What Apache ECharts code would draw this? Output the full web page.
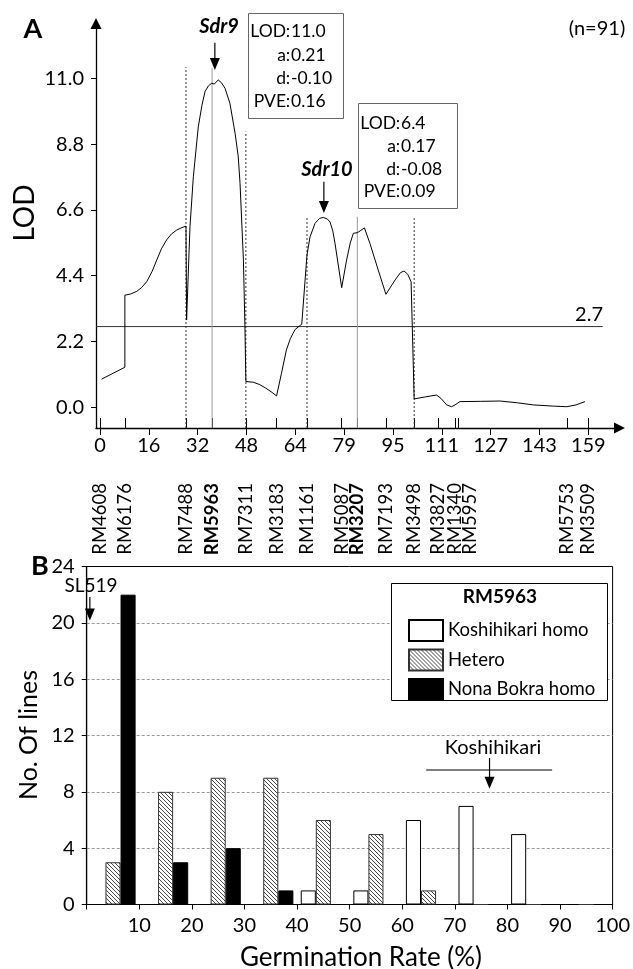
<!DOCTYPE html>
<html>
<head>
<meta charset="utf-8">
<script src="https://cdn.jsdelivr.net/npm/echarts@6/dist/echarts.min.js"></script>
<style>
html,body{margin:0;padding:0;background:#fff;}
#chart{width:633px;height:969px;}
</style>
</head>
<body>
<div id="chart"></div>
<script>
// ---------------- Panel A data ----------------
const markerNames = ['RM4608','RM6176','RM7488','RM5963','RM7311','RM3183','RM1161','RM5087','RM3207','RM7193','RM3498','RM3827','RM1340','RM5957','RM5753','RM3509'];
const markerPos   = [0, 8.1, 28.0, 36.5, 47.5, 57.5, 67.4, 78.7, 83.8, 93.1, 102.3, 110.2, 115.6, 116.5, 152.2, 159.0];
const boldMarkers = ['RM5963','RM3207'];
const scaleTickPos = [0, 15.9, 31.8, 47.7, 63.6, 79.5, 95.4, 111.3, 127.2, 143.1, 159.0];
const scaleLabels  = ['0','16','32','48','64','79','95','111','127','143','159'];
const lodTicks = [0, 2.2, 4.4, 6.6, 8.8, 11.0];
const threshold = 2.7;
const lodCurve = [
  [0.5,0.94],[8.1,1.34],[8.1,3.75],[10.0,3.79],[12.0,3.88],[13.5,4.0],[15.2,4.2],[17.0,4.55],[18.5,4.93],[20.0,5.3],[21.7,5.6],[23.3,5.8],[25.0,5.93],[26.7,6.01],[28.0,6.06],
  [28.2,2.92],[29.3,6.04],[30.4,7.71],[32.0,9.38],[33.2,10.1],[34.2,10.56],[35.3,10.75],[36.4,10.84],[37.2,10.81],[38.5,10.95],[39.6,10.85],[40.7,10.67],[42.3,10.17],[44.0,9.16],[45.0,8.4],[45.6,7.49],[46.7,4.93],[47.2,2.7],[47.5,0.86],
  [49.9,0.84],[52.0,0.76],[54.0,0.64],[56.0,0.5],[57.5,0.38],[59.1,1.14],[60.7,1.92],[62.0,2.3],[63.5,2.6],[65.7,2.78],[66.3,2.82],[67.4,5.1],[68.4,5.7],[70.0,6.15],[71.5,6.32],[72.7,6.35],[74.0,6.3],[74.9,6.2],[75.8,5.9],[76.5,5.5],[78.7,4.0],[80.3,4.93],[81.5,5.5],[82.5,5.82],[83.8,5.84],[84.7,5.9],[86.1,6.0],[87.9,5.48],[90.6,4.59],[93.1,3.78],[96.1,4.26],[97.8,4.5],[99.0,4.56],[100.2,4.45],[101.3,4.2],
  [102.3,0.28],[106.0,0.35],[109.6,0.41],[111.0,0.3],[112.9,0.08],[114.5,0.02],[115.6,0.08],[116.2,0.13],[117.2,0.19],[124.0,0.2],[130.3,0.21],[136.0,0.15],[141.1,0.08],[147.6,0.04],[152.0,0.02],[155.0,0.08],[157.9,0.19]
];
const qtlNames = ['Sdr9','Sdr10'];
const qtlPeakPos = [37.4, 72.9];
const qtlStatLabels = ['LOD','a','d','PVE'];
const qtlStats = [['11.0','0.21','-0.10','0.16'], ['6.4','0.17','-0.08','0.09']];

// ---------------- Panel B data ----------------
const rateBins = ['0-10','10-20','20-30','30-40','40-50','50-60','60-70','70-80','80-90','90-100'];
const koshihikariHomo = [0,0,0,0,1,1,6,7,5,0];
const hetero          = [3,8,9,9,6,5,1,0,0,0];
const nonaBokraHomo   = [22,3,4,1,0,0,0,0,0,0];
const sl519Rate = 0.6;
const koshihikariRate = 76.6;
const koshihikariRange = [64.55, 88.5];

// ---------------- layout ----------------
const FONT = 'Lato';
const TICK_FS = 20;
const X_MIN_A = -1.30, X_MAX_A = 169.16, Y_MIN_A = -0.692, Y_MAX_A = 12.836;
const labelNudge = {RM5957: 4};
const markerLabelPos = markerPos.map((p,i)=> p + (labelNudge[markerNames[i]]||0));
const posOf = n => markerPos[markerNames.indexOf(n)];

function hatchCanvas(){
  const c = document.createElement('canvas');
  c.width = 4; c.height = 4;
  const g = c.getContext('2d');
  g.fillStyle = '#fff'; g.fillRect(0,0,4,4);
  g.strokeStyle = '#444'; g.lineWidth = 1;
  g.beginPath();
  g.moveTo(0,0); g.lineTo(4,4);
  g.moveTo(-1,3); g.lineTo(1,5);
  g.moveTo(3,-1); g.lineTo(5,1);
  g.stroke();
  return c;
}

const chart = echarts.init(document.getElementById('chart'), null, {renderer:'canvas'});

function vline(name, dotted, top){
  const x = posOf(name);
  return {
    type:'line', xAxisIndex:0, yAxisIndex:0, symbol:'none', silent:true, z:2,
    data:[[x, Y_MIN_A],[x, top]],
    lineStyle:{color: dotted ? '#333' : '#999', width:1, type: dotted ? [2,2] : 'solid'}
  };
}
function arrow(xi, yi, x, yTop, yHead){
  return {
    type:'line', xAxisIndex:xi, yAxisIndex:yi, silent:true, z:4,
    symbol:'triangle', symbolSize:[10,12], symbolRotate:180, showSymbol:true,
    itemStyle:{color:'#000'},
    lineStyle:{color:'#000', width:1.2},
    data:[{value:[x,yTop], symbol:'none'}, {value:[x,yHead]}]
  };
}

const series = [
  {type:'line', name:'LOD', xAxisIndex:0, yAxisIndex:0, data:lodCurve, showSymbol:false, symbol:'none', silent:true, z:3,
   lineStyle:{color:'#000', width:1}},
  {type:'line', xAxisIndex:0, yAxisIndex:0, data:[[X_MIN_A, threshold],[163.7, threshold]], symbol:'none', silent:true, z:2,
   lineStyle:{color:'#333', width:1}},
  vline('RM7488', true, 11.38),
  vline('RM5963', false, 11.35),
  vline('RM7311', true, 9.22),
  vline('RM1161', true, 6.37),
  vline('RM3207', false, 6.37),
  vline('RM3498', true, 6.32),
  arrow(0,0, qtlPeakPos[0], 12.19, 11.48),
  arrow(0,0, qtlPeakPos[1], 7.54, 6.70),
  {type:'bar', name:'Koshihikari homo', xAxisIndex:2, yAxisIndex:1, data:koshihikariHomo, barGap:'0%', barCategoryGap:'14%',
   itemStyle:{color:'#fff', borderColor:'#000', borderWidth:1}, silent:true},
  {type:'bar', name:'Hetero', xAxisIndex:2, yAxisIndex:1, data:hetero, barGap:'0%', barCategoryGap:'14%',
   itemStyle:{color:{image:hatchCanvas(), repeat:'repeat'}, borderColor:'#333', borderWidth:1}, silent:true},
  {type:'bar', name:'Nona Bokra homo', xAxisIndex:2, yAxisIndex:1, data:nonaBokraHomo, barGap:'0%', barCategoryGap:'14%',
   itemStyle:{color:'#000', borderColor:'#000', borderWidth:1}, silent:true},
  arrow(3,1, sl519Rate, 21.84, 20.6),
  arrow(3,1, koshihikariRate, 10.4, 8.65),
  {type:'line', xAxisIndex:3, yAxisIndex:1, symbol:'none', silent:true, z:4,
   data:[[koshihikariRange[0], 9.55],[koshihikariRange[1], 9.55]], lineStyle:{color:'#000', width:1.2}}
];

function txt(text, x, y, font, opts){
  opts = opts || {};
  return {
    type:'text', x:x, y:y, rotation: opts.rotation || 0, z: opts.z || 10, silent:true,
    style:{text:text, font:font, fill:'#000',
      textAlign: opts.align || 'center', textVerticalAlign: opts.valign || 'middle',
      align: opts.align || 'center', verticalAlign: opts.valign || 'middle'}
  };
}

const graphics = [];
graphics.push(txt('A', 33, 29, 'bold 27px '+FONT));
graphics.push(txt('(n=91)', 597, 29, '20px '+FONT));
graphics.push(txt('LOD', 25, 213, '28px '+FONT, {rotation:Math.PI/2}));
graphics.push(txt(qtlNames[0], 219, 27, 'italic bold 20px '+FONT));
graphics.push(txt(qtlNames[1], 327, 170, 'italic bold 20px '+FONT));
graphics.push(txt('2.7', 603, 315, '20px '+FONT, {align:'right'}));
const BOX_FS = 17.5;
const boxes = [{x:248.5, y:13.5, w:95, h:105, colon:287.5, y0:31.7, dy:23.3},
               {x:358.5, y:103.5, w:99, h:105, colon:397.5, y0:123.3, dy:22.8}];
boxes.forEach((b,k)=>{
  graphics.push({type:'rect', shape:{x:b.x, y:b.y, width:b.w, height:b.h}, style:{fill:'#fff', stroke:'#666', lineWidth:1}, z:8, silent:true});
  qtlStatLabels.forEach((lab,i)=>{
    const y = b.y0 + b.dy*i;
    graphics.push(txt(lab, b.colon-1.5, y, BOX_FS+'px '+FONT, {align:'right'}));
    graphics.push(txt(':', b.colon+0.5, y, BOX_FS+'px '+FONT));
    graphics.push(txt(qtlStats[k][i], b.colon+3.5, y, BOX_FS+'px '+FONT, {align:'left'}));
  });
});
graphics.push(txt('B', 40, 566, 'bold 27px '+FONT));
graphics.push(txt('No. Of lines', 29, 735, '25px '+FONT, {rotation:Math.PI/2}));
graphics.push(txt('Germination Rate (%)', 361, 958, '26px '+FONT));
graphics.push(txt('SL519', 91, 586, '19px '+FONT));
graphics.push(txt('Koshihikari', 493, 748, '20px '+FONT));
graphics.push({type:'rect', shape:{x:391.5, y:583.5, width:216, height:117}, style:{fill:'#fff', stroke:'#000', lineWidth:1}, z:3, silent:true});
graphics.push(txt('RM5963', 500, 597, 'bold 19px '+FONT, {z:5}));

const option = {
  animation:false,
  backgroundColor:'#fff',
  textStyle:{fontFamily:FONT},
  grid:[
    {left:96, top:23.5, width:523.5, height:404.5},
    {left:86.7, top:566.5, width:536, height:338, show:true, borderColor:'#000', borderWidth:1, backgroundColor:'transparent'}
  ],
  legend:{
    data:['Koshihikari homo','Hetero','Nona Bokra homo'],
    orient:'vertical', left:403, top:614, itemWidth:34, itemHeight:21, itemGap:6.5, icon:'rect',
    selectedMode:false, z:6,
    textStyle:{fontSize:18.5, color:'#000', fontFamily:FONT}
  },
  xAxis:[
    {type:'value', gridIndex:0, min:X_MIN_A, max:X_MAX_A, position:'bottom',
     axisLine:{show:true, onZero:false, symbol:['none','triangle'], symbolSize:[11,11], lineStyle:{color:'#000', width:1.3}},
     axisTick:{show:true, inside:false, length:7, customValues:scaleTickPos, lineStyle:{color:'#000'}},
     axisLabel:{show:true, customValues:scaleTickPos, margin:8, fontSize:TICK_FS, color:'#000', fontFamily:FONT,
       formatter:(v)=>{ let bi=0,bd=1e9; scaleTickPos.forEach((p,i)=>{const d=Math.abs(p-v); if(d<bd){bd=d;bi=i;}}); return scaleLabels[bi]; }},
     splitLine:{show:false}},
    {type:'value', gridIndex:0, min:X_MIN_A, max:X_MAX_A, position:'bottom', offset:0,
     axisLine:{show:false, onZero:false},
     axisTick:{show:true, inside:true, length:10, customValues:markerPos, lineStyle:{color:'#000'}},
     axisLabel:{show:true, customValues:markerLabelPos, rotate:90, margin:55, fontSize:18.5, color:'#000', fontFamily:FONT,
       formatter:(v)=>{ let bi=0,bd=1e9; markerLabelPos.forEach((p,i)=>{const d=Math.abs(p-v); if(d<bd){bd=d;bi=i;}});
         const n = markerNames[bi]; return boldMarkers.includes(n) ? '{b|'+n+'}' : n; },
       rich:{b:{fontWeight:'bold', fontSize:18.5, fontFamily:FONT, color:'#000'}}},
     splitLine:{show:false}},
    {type:'category', gridIndex:1, data:rateBins, show:false, position:'bottom'},
    {type:'value', gridIndex:1, min:0, max:100, interval:10, position:'bottom',
     axisLine:{show:true, onZero:false, lineStyle:{color:'#000', width:1.2}},
     axisTick:{show:true, length:5, lineStyle:{color:'#000'}},
     axisLabel:{margin:11, fontSize:TICK_FS, color:'#000', fontFamily:FONT, formatter:(v)=> v===0 ? '' : String(v)},
     splitLine:{show:false}}
  ],
  yAxis:[
    {type:'value', gridIndex:0, min:Y_MIN_A, max:Y_MAX_A,
     axisLine:{show:true, onZero:false, symbol:['none','triangle'], symbolSize:[11,11], lineStyle:{color:'#000', width:1.3}},
     axisTick:{show:true, length:5, customValues:lodTicks, lineStyle:{color:'#000'}},
     axisLabel:{customValues:lodTicks, margin:12, fontSize:TICK_FS, color:'#000', fontFamily:FONT, formatter:(v)=>v.toFixed(1)},
     splitLine:{show:false}},
    {type:'value', gridIndex:1, min:0, max:24, interval:4,
     axisLine:{show:true, onZero:false, lineStyle:{color:'#000', width:1.2}},
     axisTick:{show:true, length:5, lineStyle:{color:'#000'}},
     axisLabel:{margin:12, fontSize:TICK_FS, color:'#000', fontFamily:FONT},
     splitLine:{show:true, showMinLine:false, showMaxLine:false, lineStyle:{color:'#999', type:[3,2], width:1}}}
  ],
  series:series,
  graphic:{elements:graphics}
};
chart.setOption(option);
</script>
</body>
</html>
